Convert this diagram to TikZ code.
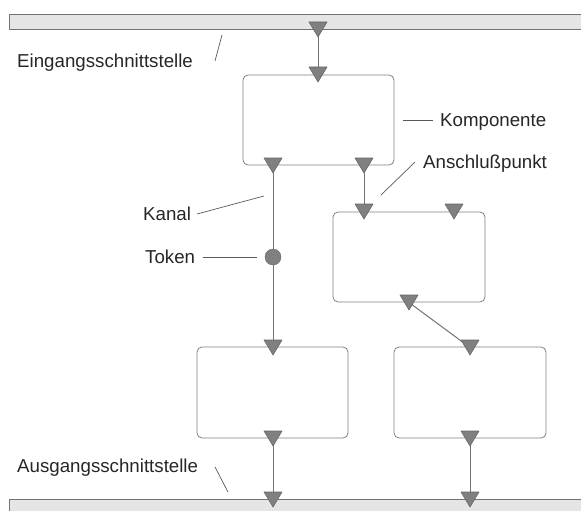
\documentclass[tikz,border=0pt]{standalone}
\usepackage{fontspec}
\setmainfont{Liberation Sans}
\begin{document}
\begin{tikzpicture}[x=1pt,y=-1pt,
  bar/.style={draw=black!55,fill=black!10,line width=0.8pt},
  comp/.style={draw=black!50,rounded corners=5pt,line width=0.8pt},
  chan/.style={draw=black!55,line width=1pt},
  lead/.style={draw=black!65,line width=0.7pt},
  lbl/.style={anchor=base west,inner sep=0pt,font=\fontsize{18.7}{22}\selectfont,text=black!85},
  port/.pic={\draw[fill=black!50,draw=black!60,line width=0.6pt,line join=round] (-9,-7.5) -- (9,-7.5) -- (0,7.5) -- cycle;}
]
\useasboundingbox (0,0) rectangle (581,511);
% bars
\draw[bar] (9,14) rectangle (590,29);
\draw[bar] (9,499) rectangle (590,520);
% components
\draw[comp] (243,75) rectangle (394,165);
\draw[comp] (333,212) rectangle (485,302);
\draw[comp] (197,347) rectangle (348,438);
\draw[comp] (394,347) rectangle (546,438);
% ports
\coordinate (pA) at (318,29.5);
\coordinate (pB) at (318,74.5);
\coordinate (pC) at (273,165.5);
\coordinate (pD) at (364,165.5);
\coordinate (pE) at (364,211.5);
\coordinate (pF) at (454,211.5);
\coordinate (pG) at (409,302.5);
\coordinate (pH) at (470,347.5);
\coordinate (pI) at (273,347.5);
\coordinate (pJ) at (273,438.5);
\coordinate (pK) at (470,438.5);
\coordinate (pL) at (273,499.5);
\coordinate (pM) at (470,499.5);
% channels
\draw[chan] (pA) -- (pB);
\draw[chan] (pC) -- (pI);
\draw[chan] (pD) -- (pE);
\draw[chan] (pG) -- (pH);
\draw[chan] (pJ) -- (pL);
\draw[chan] (pK) -- (pM);
\foreach \p in {pA,pB,pC,pD,pE,pF,pG,pH,pI,pJ,pK,pL,pM} \pic at (\p) {port};
% token
\node[circle,fill=black!50,draw=black!60,minimum size=16pt,inner sep=0pt] (tok) at (273,257) {};
% labels
\node[lbl] (lein) at (17,68) {Eingangsschnittstelle};
\node[lbl] (lkomp) at (440,126) {Komponente};
\node[lbl] (lan) at (423,168) {Anschlußpunkt};
\node[lbl] (lkan) at (143,220) {Kanal};
\node[lbl] (ltok) at (145,263) {Token};
\node[lbl] (laus) at (17,472) {Ausgangsschnittstelle};
% leader ends
\coordinate (e1a) at (215,61); \coordinate (e1b) at (222,35);
\coordinate (k1) at (403,120); \coordinate (k2) at (433,120);
\coordinate (a1) at (381,195); \coordinate (a2) at (415,162);
\coordinate (c1) at (197,214); \coordinate (c2) at (264,196);
\coordinate (t1) at (203,257); \coordinate (t2) at (257,257);
\coordinate (u1) at (215,467); \coordinate (u2) at (228,492);
\draw[lead] (e1a) -- (e1b);
\draw[lead] (k1) -- (k2);
\draw[lead] (a1) -- (a2);
\draw[lead] (c1) -- (c2);
\draw[lead] (t1) -- (t2);
\draw[lead] (u1) -- (u2);
\end{tikzpicture}
\end{document}
